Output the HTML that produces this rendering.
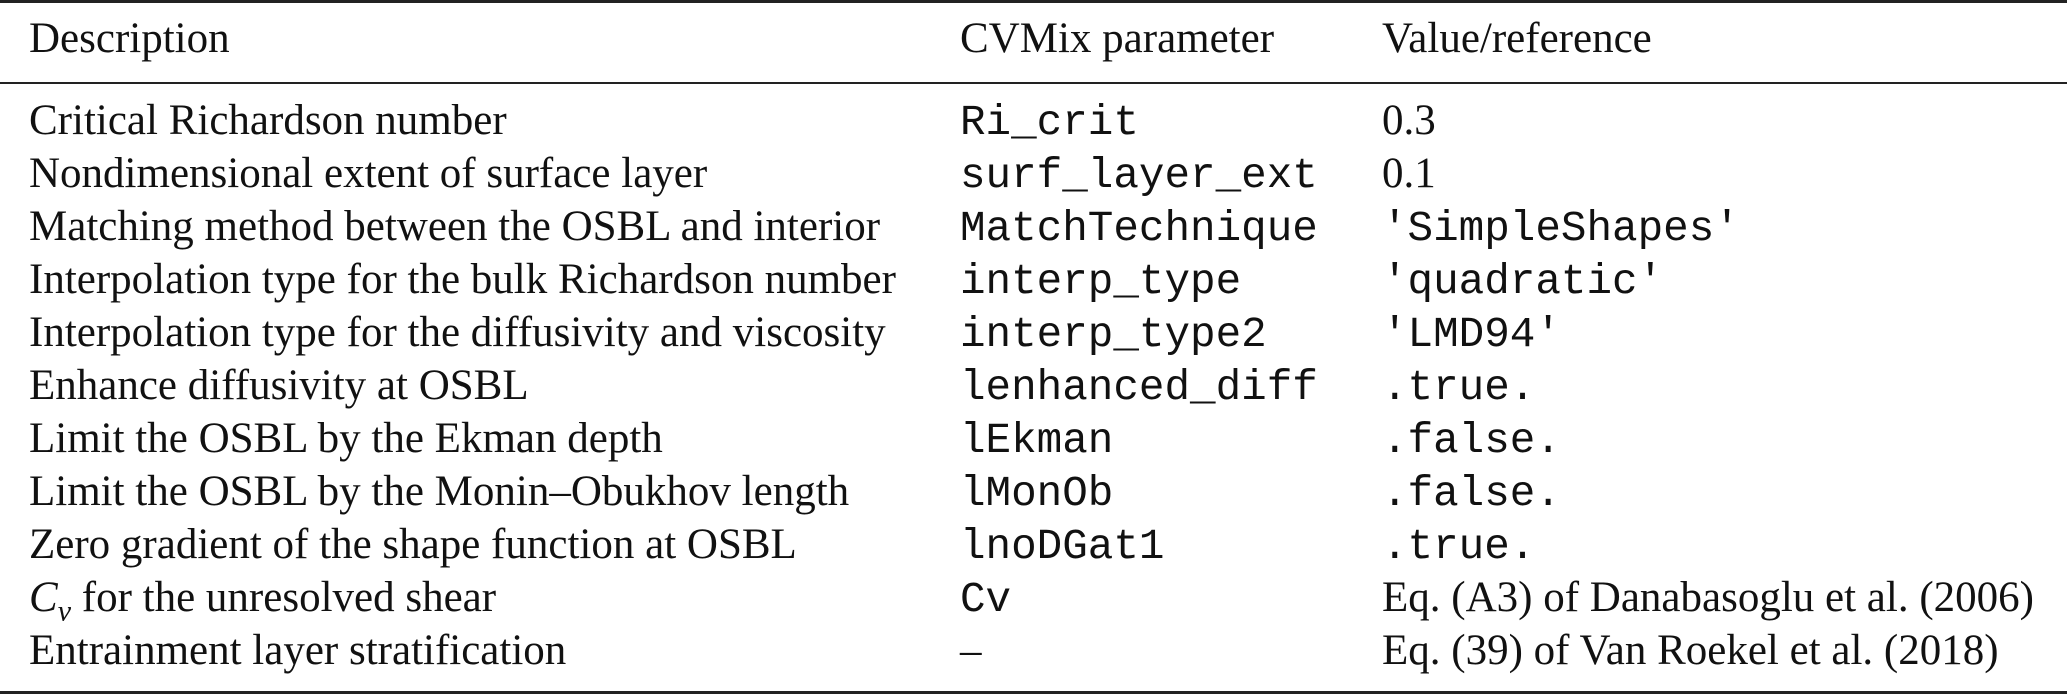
<!DOCTYPE html>
<html><head><meta charset="utf-8">
<style>
html,body{margin:0;padding:0;background:#fff;}
body{width:2067px;height:696px;position:relative;overflow:hidden;color:#111;}
.rule{position:absolute;left:0;width:2067px;background:#222;}
.row{position:absolute;left:29px;height:53px;line-height:53px;white-space:nowrap;font-family:"Liberation Serif",serif;font-size:43px;}
.c1{display:inline-block;width:931px;}
.c2{display:inline-block;width:422px;}
.m{font-family:"Liberation Mono",monospace;font-size:42.6px;}
</style></head><body>
<div class="rule" style="top:0;height:3px"></div>
<div class="rule" style="top:82px;height:2px"></div>
<div class="rule" style="top:691px;height:3px"></div>

<div class="row" style="top:12px"><span class="c1">Description</span><span class="c2">CVMix parameter</span><span>Value/reference</span></div>

<div class="row" style="top:94px"><span class="c1">Critical Richardson number</span><span class="c2 m">Ri_crit</span><span>0.3</span></div>
<div class="row" style="top:147px"><span class="c1">Nondimensional extent of surface layer</span><span class="c2 m">surf_layer_ext</span><span>0.1</span></div>
<div class="row" style="top:200px"><span class="c1">Matching method between the OSBL and interior</span><span class="c2 m">MatchTechnique</span><span class="m">'SimpleShapes'</span></div>
<div class="row" style="top:253px"><span class="c1">Interpolation type for the bulk Richardson number</span><span class="c2 m">interp_type</span><span class="m">'quadratic'</span></div>
<div class="row" style="top:306px"><span class="c1">Interpolation type for the diffusivity and viscosity</span><span class="c2 m">interp_type2</span><span class="m">'LMD94'</span></div>
<div class="row" style="top:359px"><span class="c1">Enhance diffusivity at OSBL</span><span class="c2 m">lenhanced_diff</span><span class="m">.true.</span></div>
<div class="row" style="top:412px"><span class="c1">Limit the OSBL by the Ekman depth</span><span class="c2 m">lEkman</span><span class="m">.false.</span></div>
<div class="row" style="top:465px"><span class="c1">Limit the OSBL by the Monin–Obukhov length</span><span class="c2 m">lMonOb</span><span class="m">.false.</span></div>
<div class="row" style="top:518px"><span class="c1">Zero gradient of the shape function at OSBL</span><span class="c2 m">lnoDGat1</span><span class="m">.true.</span></div>
<div class="row" style="top:571px"><span class="c1"><i>C</i><sub style="font-size:30px;line-height:0"><i>v</i></sub> for the unresolved shear</span><span class="c2 m">Cv</span><span>Eq. (A3) of Danabasoglu et al. (2006)</span></div>
<div class="row" style="top:624px"><span class="c1">Entrainment layer stratification</span><span class="c2">–</span><span>Eq. (39) of Van Roekel et al. (2018)</span></div>
</body></html>
